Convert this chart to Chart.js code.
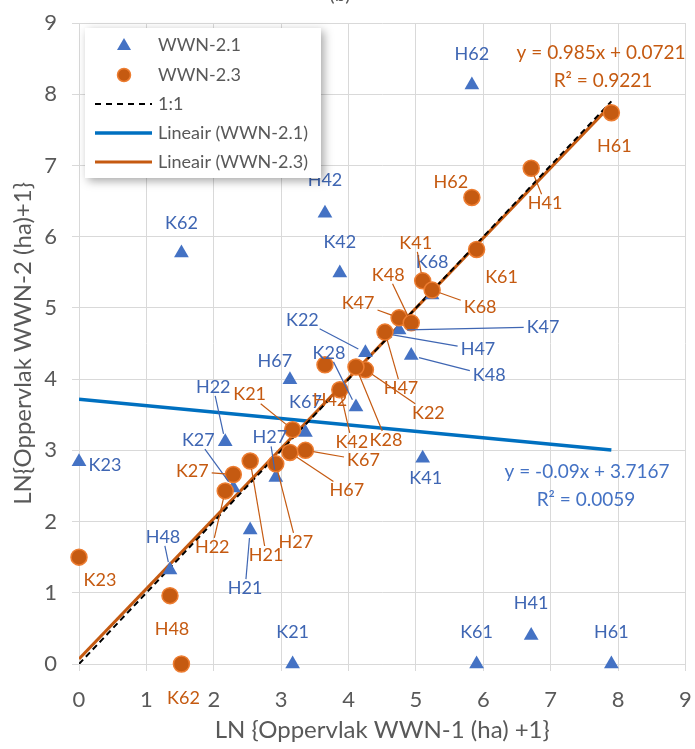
<!DOCTYPE html>
<html>
<head>
<meta charset="utf-8">
<title>WWN-1 vs WWN-2</title>
<script src="https://cdn.jsdelivr.net/npm/chart.js@4.4.1/dist/chart.umd.min.js"></script>
<style>
body{margin:0;background:#fff;}
</style>
</head>
<body>
<canvas id="scatter1" width="695" height="749"></canvas>

<script>
// sites and values
var sites  = ['H21','H22','H27','H41','H42','H47','H48','H61','H62','H67','K21','K22','K23','K27','K28','K41','K42','K47','K48','K61','K62','K67','K68'];
var lnWWN1 = [2.54, 2.17, 2.92, 6.71, 3.65, 4.54, 1.35, 7.90, 5.83, 3.13, 3.17, 4.25, 0.00, 2.29, 4.11, 5.10, 3.87, 4.75, 4.93, 5.90, 1.52, 3.36, 5.24];
var wwn21  = [1.88, 3.12, 2.62, 0.40, 6.33, 4.64, 1.32, 0.00, 8.13, 3.99, 0.00, 4.37, 2.84, 2.47, 3.61, 2.89, 5.49, 4.69, 4.33, 0.00, 5.77, 3.25, 5.18];
var wwn23  = [2.85, 2.43, 2.81, 6.96, 4.20, 4.66, 0.96, 7.74, 6.55, 2.97, 3.29, 4.13, 1.50, 2.66, 4.17, 5.38, 3.85, 4.86, 4.79, 5.82, 0.00, 3.00, 5.25];
var trendSlope = [-0.09, 0.985];
var trendIcpt  = [3.7167, 0.0721];
var trendText  = [['y = -0.09x + 3.7167', 'R² = 0.0059'], ['y = 0.985x + 0.0721', 'R² = 0.9221']];
var xTicks = [0, 1, 2, 3, 4, 5, 6, 7, 8, 9];

var FONT = 'Lato, "Open Sans", sans-serif';
var GREY = '#595959';
var BLUE = '#4472C4', BLUE_TXT = '#3F66B3', BLUE_LINE = '#0070C0';
var ORANGE = '#C55A11', ORANGE_EDGE = '#ED7D31';

// label offsets in px from the marker: [dx, dy, leader line]
var labelPos21 = {
  H21:[-5,58,1], H22:[-12,-55,1], H27:[-6,-40,1], H41:[0,-32,0], H42:[0,-33,0], H47:[93,16,1],
  H48:[-7,-33,1], H61:[0,-32,0], H62:[0,-31,0], H67:[-15,-19,0], K21:[0,-32,0], K22:[-63,-33,1],
  K23:[26,3,0], K27:[-35,-48,1], K28:[-27,-54,1], K41:[3,20,0], K42:[0,-31,0], K47:[144,-3,1],
  K48:[78,20,1], K61:[0,-32,0], K62:[0,-30,0], K67:[0,-30,0], K68:[0,-33,0]
};
var labelPos23 = {
  H21:[16,94,1], H22:[-13,56,1], H27:[20,78,1], H41:[14,35,1], H42:[5,35,0], H47:[16,56,1],
  H48:[2,34,0], H61:[3,33,0], H62:[-21,-15,0], H67:[57,38,1], K21:[-43,-35,1], K22:[63,43,1],
  K23:[21,23,0], K27:[-41,-3,1], K28:[30,73,1], K41:[-7,-38,1], K42:[12,52,1], K47:[-41,-15,1],
  K48:[-23,-48,1], K61:[25,28,0], K62:[2,34,0], K67:[58,10,1], K68:[48,17,1]
};

function pts(ys){
  return lnWWN1.map(function(x, i){ return {x: x, y: ys[i]}; });
}
var xMin = Math.min.apply(null, lnWWN1), xMax = Math.max.apply(null, lnWWN1);
function trend(k){
  return [{x: xMin, y: trendSlope[k]*xMin + trendIcpt[k]}, {x: xMax, y: trendSlope[k]*xMax + trendIcpt[k]}];
}

function edgePoint(cx, cy, w, h, px, py){
  var dx = px - cx, dy = py - cy;
  var s = Math.min(dx ? (w/2)/Math.abs(dx) : 1e9, dy ? (h/2)/Math.abs(dy) : 1e9);
  if (s > 1) s = 1;
  return [cx + dx*s, cy + dy*s];
}

var labelPlugin = {
  id: 'pointLabels',
  afterDatasetsDraw: function(chart){
    var ctx = chart.ctx;
    ctx.save();
    ctx.font = '18px ' + FONT;
    ctx.textAlign = 'center';
    ctx.textBaseline = 'middle';
    [[1, labelPos21, BLUE_TXT, 8], [0, labelPos23, ORANGE, 8]].forEach(function(cfg){
      var meta = chart.getDatasetMeta(cfg[0]);
      meta.data.forEach(function(el, i){
        var p = cfg[1][sites[i]];
        var lx = el.x + p[0], ly = el.y + p[1];
        if (p[2]) {
          var w = ctx.measureText(sites[i]).width + 6;
          var a = edgePoint(lx, ly, w, 18, el.x, el.y);
          var dx = el.x - a[0], dy = el.y - a[1], L = Math.hypot(dx, dy);
          if (L > cfg[3] + 2) {
            ctx.strokeStyle = cfg[2];
            ctx.lineWidth = 1.2;
            ctx.beginPath();
            ctx.moveTo(a[0], a[1]);
            ctx.lineTo(el.x - dx/L*cfg[3], el.y - dy/L*cfg[3]);
            ctx.stroke();
          }
        }
        ctx.fillStyle = cfg[2];
        ctx.fillText(sites[i], lx, ly);
      });
    });

    // trendline equations
    var area = chart.chartArea;
    ctx.font = '19px ' + FONT;
    ctx.fillStyle = ORANGE;
    ctx.textAlign = 'right';
    ctx.fillText(trendText[1][0], area.right, 53);
    ctx.textAlign = 'center';
    ctx.fillText(trendText[1][1], 603, 81);
    ctx.fillStyle = BLUE;
    ctx.fillText(trendText[0][0], 587, 472);
    ctx.fillText(trendText[0][1], 586, 500);

    // clipped chart title
    ctx.fillStyle = GREY;
    ctx.font = '20px ' + FONT;
    ctx.textBaseline = 'alphabetic';
    ctx.fillText('(b)', 340, 1);

    // legend box
    var lx0 = 85, ly0 = 28, lw = 236, lh = 150;
    ctx.save();
    ctx.shadowColor = 'rgba(0,0,0,0.35)';
    ctx.shadowBlur = 9;
    ctx.shadowOffsetX = 3;
    ctx.shadowOffsetY = 3;
    ctx.fillStyle = '#fff';
    ctx.fillRect(lx0, ly0, lw, lh);
    ctx.restore();

    var rows = [45, 75, 104, 133, 162];
    var names = ['WWN-2.1', 'WWN-2.3', '1:1', 'Lineair (WWN-2.1)', 'Lineair (WWN-2.3)'];
    // triangle
    ctx.fillStyle = BLUE;
    ctx.beginPath();
    ctx.moveTo(124, rows[0] - 7);
    ctx.lineTo(131, rows[0] + 5);
    ctx.lineTo(117, rows[0] + 5);
    ctx.closePath();
    ctx.fill();
    // circle
    ctx.fillStyle = ORANGE;
    ctx.strokeStyle = ORANGE_EDGE;
    ctx.lineWidth = 1.5;
    ctx.beginPath();
    ctx.arc(124, rows[1], 6.5, 0, Math.PI*2);
    ctx.fill();
    ctx.stroke();
    // lines
    function legLine(y, col, wd, dash){
      ctx.strokeStyle = col;
      ctx.lineWidth = wd;
      ctx.setLineDash(dash);
      ctx.beginPath();
      ctx.moveTo(95, y);
      ctx.lineTo(152, y);
      ctx.stroke();
      ctx.setLineDash([]);
    }
    legLine(rows[2], '#000', 2, [6, 5]);
    legLine(rows[3], BLUE_LINE, 3.5, []);
    legLine(rows[4], ORANGE, 3, []);

    ctx.fillStyle = GREY;
    ctx.font = '18px ' + FONT;
    ctx.textAlign = 'left';
    ctx.textBaseline = 'middle';
    names.forEach(function(n, i){ ctx.fillText(n, 158, rows[i]); });
    ctx.restore();
  }
};

var ctx = document.getElementById('scatter1').getContext('2d');
var chart = new Chart(ctx, {
  type: 'scatter',
  data: {
    datasets: [
      {
        label: 'WWN-2.3',
        data: pts(wwn23),
        pointStyle: 'circle',
        pointRadius: 8,
        backgroundColor: ORANGE,
        borderColor: ORANGE_EDGE,
        borderWidth: 1.5,
        clip: false
      },
      {
        label: 'WWN-2.1',
        data: pts(wwn21),
        pointStyle: 'triangle',
        pointRadius: 8.5,
        backgroundColor: BLUE,
        borderColor: BLUE,
        borderWidth: 0,
        clip: false
      },
      {
        label: '1:1',
        data: [{x: xMin, y: xMin}, {x: xMax, y: xMax}],
        showLine: true,
        pointRadius: 0,
        borderColor: '#000',
        borderWidth: 2,
        borderDash: [6, 4]
      },
      {
        label: 'Lineair (WWN-2.3)',
        data: trend(1),
        showLine: true,
        pointRadius: 0,
        borderColor: ORANGE,
        borderWidth: 3
      },
      {
        label: 'Lineair (WWN-2.1)',
        data: trend(0),
        showLine: true,
        pointRadius: 0,
        borderColor: BLUE_LINE,
        borderWidth: 3.5
      }
    ]
  },
  options: {
    responsive: false,
    animation: false,
    devicePixelRatio: 1,
    layout: {padding: {left: 0, top: 23, right: 0, bottom: 0}},
    plugins: {
      legend: {display: false},
      tooltip: {enabled: false}
    },
    scales: {
      x: {
        type: 'linear',
        min: 0, max: 9,
        afterBuildTicks: function(s){ s.ticks = xTicks.map(function(v){ return {value: v}; }); },
        afterFit: function(s){ s.height = 85; s.paddingLeft = 0; s.paddingRight = 0; },
        grid: {color: '#D9D9D9', lineWidth: 1, tickLength: 7},
        border: {color: '#D9D9D9'},
        ticks: {color: GREY, font: {size: 22, family: FONT}, padding: 16, maxRotation: 0},
        title: {display: true, text: 'LN {Oppervlak WWN-1 (ha) +1}', color: GREY,
                font: {size: 24, family: FONT}, padding: {top: 0, bottom: 4}}
      },
      y: {
        type: 'linear',
        min: 0, max: 9,
        afterBuildTicks: function(s){ s.ticks = xTicks.map(function(v){ return {value: v}; }); },
        afterFit: function(s){ s.width = 79; s.paddingTop = 0; s.paddingBottom = 0; },
        grid: {color: '#D9D9D9', lineWidth: 1, tickLength: 7},
        border: {color: '#D9D9D9'},
        ticks: {color: GREY, font: {size: 22, family: FONT}, padding: 15},
        title: {display: true, text: 'LN{Oppervlak WWN-2 (ha)+1}', color: GREY,
                font: {size: 24, family: FONT}, padding: {top: 9, bottom: 0}}
      }
    }
  },
  plugins: [labelPlugin]
});
</script>
</body>
</html>
